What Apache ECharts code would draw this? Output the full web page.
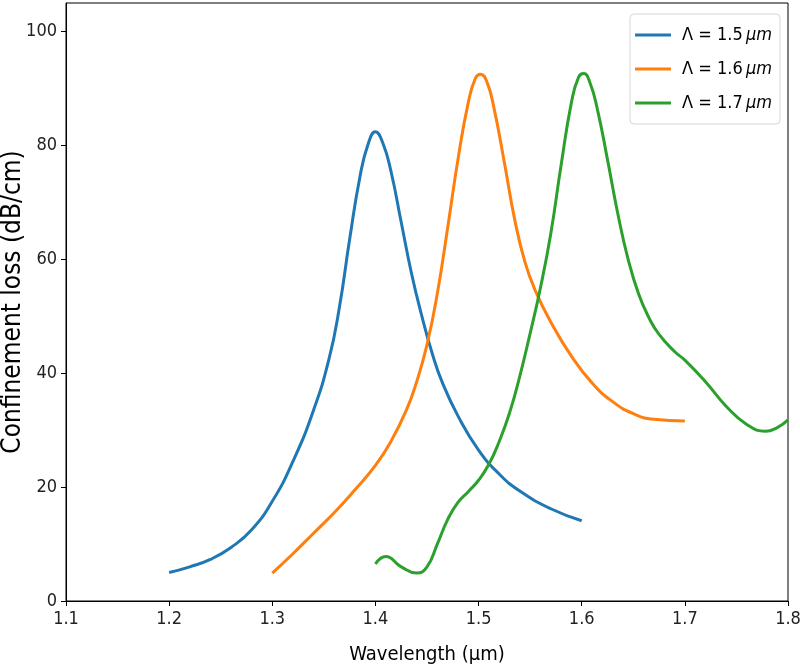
<!DOCTYPE html>
<html>
<head>
<meta charset="utf-8">
<script src="https://cdn.jsdelivr.net/npm/echarts@6/dist/echarts.min.js"></script>
<style>
  html, body { margin: 0; padding: 0; background: #fff; }
  #main { width: 800px; height: 672px; }
</style>
</head>
<body>
<div id="main"></div>
<script>
// confinement loss vs wavelength, one curve per period
const seriesNames = ["1.5", "1.6", "1.7"];

const lossP15 = [
  [1.20, 5.0], [1.22, 6.0], [1.24, 7.3], [1.26, 9.4], [1.28, 12.5],
  [1.30, 17.5], [1.32, 24.5], [1.34, 33.5], [1.355, 42.5], [1.365, 51.5],
  [1.375, 63.5], [1.385, 74.5], [1.393, 80.3], [1.40, 82.4], [1.407, 80.5],
  [1.415, 75.5], [1.425, 66.5], [1.435, 57.5], [1.445, 50.0], [1.455, 43.5],
  [1.465, 38.3], [1.48, 32.5], [1.50, 26.5], [1.52, 22.3], [1.54, 19.3],
  [1.57, 16.2], [1.60, 14.1]
];

const lossP16 = [
  [1.30, 4.9], [1.32, 8.3], [1.34, 11.9], [1.36, 15.5], [1.38, 19.5],
  [1.40, 23.8], [1.415, 28.0], [1.43, 33.5], [1.44, 38.5], [1.45, 45.0],
  [1.46, 54.0], [1.47, 65.5], [1.48, 77.5], [1.49, 87.5], [1.497, 91.8],
  [1.502, 92.5], [1.508, 91.2], [1.515, 86.5], [1.525, 77.0], [1.535, 67.0],
  [1.545, 59.5], [1.555, 54.5], [1.57, 49.0], [1.59, 43.0], [1.61, 38.3],
  [1.63, 35.0], [1.65, 32.9], [1.67, 31.9], [1.70, 31.6]
];

const lossP17 = [
  [1.40, 6.5], [1.41, 7.8], [1.425, 6.0], [1.44, 4.9], [1.45, 6.0],
  [1.46, 10.0], [1.47, 14.3], [1.48, 17.3], [1.49, 19.2], [1.50, 21.2],
  [1.51, 24.0], [1.52, 28.0], [1.53, 33.0], [1.54, 39.5], [1.55, 47.0],
  [1.56, 55.0], [1.57, 64.5], [1.58, 76.5], [1.59, 87.5], [1.597, 92.0],
  [1.602, 92.6], [1.608, 91.0], [1.615, 86.5], [1.625, 77.5], [1.635, 68.0],
  [1.645, 60.0], [1.655, 54.0], [1.665, 49.8], [1.675, 46.8], [1.69, 43.8],
  [1.70, 42.3], [1.72, 38.5], [1.74, 34.2], [1.76, 31.0], [1.778, 29.8],
  [1.79, 30.5], [1.80, 31.8]
];

const xTicks = { min: 1.1, max: 1.8, step: 0.1 };
const yTicks = { min: 0, max: 105, step: 20 };

const colors = ["#1f77b4", "#ff7f0e", "#2ca02c"];
const font = "'DejaVu Sans Condensed', 'Noto Sans', sans-serif";

const chart = echarts.init(document.getElementById("main"), null, { renderer: "canvas" });

function makeSeries(name, data, color) {
  return {
    name: name,
    type: "line",
    data: data,
    smooth: 0.5,
    showSymbol: false,
    symbol: "none",
    lineStyle: { color: color, width: 3 },
    itemStyle: { color: color },
    z: 3,
  };
}

const option = {
  animation: false,
  backgroundColor: "#fff",
  textStyle: { fontFamily: font, color: "#000" },
  grid: {
    left: 66,
    right: 12,
    top: 3,
    bottom: 71,
    outerBoundsMode: "none",
    show: true,
    borderColor: "#000",
    borderWidth: 1,
  },
  legend: {
    orient: "vertical",
    right: 20,
    top: 14,
    padding: [12, 8, 12, 5],
    itemGap: 16,
    itemWidth: 36,
    itemHeight: 3,
    icon: "rect",
    backgroundColor: "#fff",
    borderColor: "#d6d6d6",
    borderWidth: 1,
    borderRadius: 4,
    data: seriesNames,
    formatter: function (name) {
      return "{a|\u039B = " + name + "}{b|\u2009\u03BCm}";
    },
    textStyle: {
      fontFamily: font,
      fontSize: 18,
      color: "#000",
      rich: {
        a: { fontFamily: font, fontSize: 18, color: "#000", padding: [0, 0, 0, 6] },
        b: { fontFamily: font, fontSize: 18, fontStyle: "italic", color: "#000" },
      },
    },
  },
  xAxis: {
    type: "value",
    min: xTicks.min,
    max: xTicks.max,
    interval: xTicks.step,
    name: "Wavelength (\u03BCm)",
    nameLocation: "middle",
    nameGap: 44,
    nameMoveOverlap: false,
    nameTextStyle: { fontFamily: font, fontSize: 20, color: "#000" },
    axisLine: { onZero: false, lineStyle: { color: "#000", width: 1 } },
    axisTick: { show: true, inside: false, length: 5, lineStyle: { color: "#000" } },
    axisLabel: {
      margin: 9,
      fontSize: 18,
      color: "#222",
      formatter: function (v) { return v.toFixed(1); },
    },
    splitLine: { show: false },
  },
  yAxis: {
    type: "value",
    min: yTicks.min,
    max: yTicks.max,
    interval: yTicks.step,
    name: "Confinement loss (dB/cm)",
    nameLocation: "middle",
    nameGap: 40,
    nameMoveOverlap: false,
    nameTextStyle: { fontFamily: font, fontSize: 26, color: "#000" },
    axisLine: { show: true, lineStyle: { color: "#000", width: 1 } },
    axisTick: { show: true, inside: false, length: 5, lineStyle: { color: "#000" } },
    axisLabel: {
      margin: 9,
      fontSize: 18,
      color: "#222",
      showMaxLabel: false,
      formatter: function (v) { return v % 20 === 0 ? String(v) : ""; },
    },
    splitLine: { show: false },
  },
  series: [
    makeSeries(seriesNames[0], lossP15, colors[0]),
    makeSeries(seriesNames[1], lossP16, colors[1]),
    makeSeries(seriesNames[2], lossP17, colors[2]),
  ],
};

chart.setOption(option);
</script>
</body>
</html>
